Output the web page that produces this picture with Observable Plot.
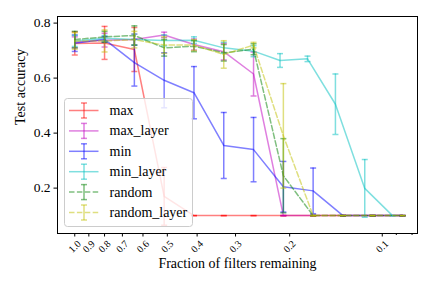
<!DOCTYPE html>
<html><head><meta charset="utf-8">
<script src="https://cdn.jsdelivr.net/npm/d3@7"></script>
<script src="https://cdn.jsdelivr.net/npm/@observablehq/plot@0.6"></script>
<style>
body{margin:0;background:#fff;}
#wrap{position:relative;width:432px;height:288px;font-family:"Liberation Serif","DejaVu Serif",serif;}
#legend{position:absolute;left:0;top:0;pointer-events:none;}
</style></head><body><div id="wrap"></div>
<script>
// ---- data ----
const fractions = [1.0, 0.8, 0.64, 0.512, 0.4096, 0.32768, 0.262144, 0.2097, 0.1678, 0.1342, 0.1074, 0.0859];
const fractionsMinLayer = [1.0, 0.8, 0.64, 0.512, 0.4096, 0.32768, 0.262144, 0.215, 0.175, 0.142, 0.114, 0.0926];

const seriesNames = ["max", "max_layer", "min", "min_layer", "random", "random_layer"];
const seriesColors = ["#ff0000", "#bf00bf", "#0000ff", "#00bfbf", "#008000", "#bfbf00"];
const seriesDashed = [false, false, false, false, true, true];

const maxAcc = [0.726, 0.728, 0.704, 0.17, 0.1, 0.1, 0.1, 0.1, 0.1, 0.1, 0.1, 0.1];
const maxErr = [0.042, 0.06, 0.08, 0.105, 0, 0, 0, 0, 0, 0, 0, 0];
const maxLayerAcc = [0.73, 0.738, 0.74, 0.757, 0.722, 0.696, 0.615, 0.1, 0.1, 0.1, 0.1, 0.1];
const maxLayerErr = [0.02, 0.025, 0.02, 0.01, 0.02, 0.03, 0.08, 0, 0, 0, 0, 0];
const minAcc = [0.727, 0.741, 0.656, 0.592, 0.547, 0.355, 0.34, 0.205, 0.19, 0.1, 0.1, 0.1];
const minErr = [0.03, 0.01, 0.085, 0.1, 0.095, 0.12, 0.117, 0.092, 0.083, 0, 0, 0];
const minLayerAcc = [0.735, 0.745, 0.74, 0.737, 0.738, 0.71, 0.698, 0.664, 0.67, 0.505, 0.199, 0.1];
const minLayerErr = [0.02, 0.01, 0.02, 0.02, 0.012, 0.02, 0.02, 0.025, 0.01, 0.11, 0.105, 0];
const randomAcc = [0.74, 0.75, 0.755, 0.71, 0.716, 0.692, 0.705, 0.245, 0.1, 0.1, 0.1, 0.1];
const randomErr = [0.03, 0.02, 0.035, 0.03, 0.02, 0.03, 0.02, 0.135, 0, 0, 0, 0];
const randomLayerAcc = [0.735, 0.735, 0.74, 0.72, 0.72, 0.686, 0.72, 0.39, 0.1, 0.1, 0.1, 0.1];
const randomLayerErr = [0.03, 0.04, 0.03, 0.03, 0.02, 0.05, 0.01, 0.19, 0, 0, 0, 0];

const xTicks = [1.0, 0.9, 0.8, 0.7, 0.6, 0.5, 0.4, 0.3, 0.2, 0.1];
const xMinorTicks = [0.09, 0.08];
const yTicks = [0.2, 0.4, 0.6, 0.8];

// ---- build rows ----
const seriesAcc = [maxAcc, maxLayerAcc, minAcc, minLayerAcc, randomAcc, randomLayerAcc];
const seriesErr = [maxErr, maxLayerErr, minErr, minLayerErr, randomErr, randomLayerErr];
const seriesX = [fractions, fractions, fractions, fractionsMinLayer, fractions, fractions];

const capSymbol = {
  draw(ctx, size) {
    const w = Math.sqrt(size / Math.PI);
    ctx.moveTo(-w, 0);
    ctx.lineTo(w, 0);
  }
};

const marks = [];
seriesNames.forEach((name, i) => {
  const rows = seriesAcc[i].map((v, j) => ({x: seriesX[i][j], y: v, lo: v - seriesErr[i][j], hi: v + seriesErr[i][j]}));
  const color = seriesColors[i];
  marks.push(Plot.ruleX(rows, {x: "x", y1: "lo", y2: "hi", stroke: color, strokeOpacity: 0.5, strokeWidth: 1.5}));
  marks.push(Plot.dot(rows, {x: "x", y: "hi", symbol: capSymbol, r: 3, fill: "none", stroke: color, strokeOpacity: 0.5, strokeWidth: 1.5}));
  marks.push(Plot.dot(rows, {x: "x", y: "lo", symbol: capSymbol, r: 3, fill: "none", stroke: color, strokeOpacity: 0.5, strokeWidth: 1.5}));
  marks.push(Plot.line(rows, {x: "x", y: "y", stroke: color, strokeOpacity: 0.5, strokeWidth: 1.5,
    strokeDasharray: seriesDashed[i] ? "5.5,2.4" : null}));
});

const chart = Plot.plot({
  width: 432,
  height: 288,
  marginLeft: 57,
  marginRight: 15,
  marginTop: 16,
  marginBottom: 55,
  x: {type: "log", domain: [1.138, 0.0768]},
  y: {domain: [0.035, 0.824]},
  style: {fontFamily: "'Liberation Serif', 'DejaVu Serif', serif", background: "white", color: "black"},
  marks: [
    ...marks,
    Plot.axisX({ticks: xTicks, tickFormat: () => "", tickSize: 3.5, label: null, stroke: "black"}),
    Plot.axisX({ticks: xMinorTicks, tickFormat: () => "", tickSize: 2, label: null, stroke: "black"}),
    Plot.text(xTicks, {x: d => d, frameAnchor: "bottom", dy: 13, rotate: -45, text: d => d.toFixed(1),
      textAnchor: "middle", lineAnchor: "middle", fontSize: 10, fill: "black"}),
    Plot.axisY({ticks: yTicks, tickFormat: d => d.toFixed(1), tickSize: 3.5, tickPadding: 3.5, fontSize: 13.5, label: null, stroke: "black"}),
    Plot.text(["Fraction of filters remaining"], {frameAnchor: "bottom", dy: 34, fontSize: 14, fill: "black"}),
    Plot.text(["Test accuracy"], {frameAnchor: "left", dx: -37, rotate: -90, fontSize: 14, fill: "black"}),
    Plot.frame({stroke: "black", strokeWidth: 1})
  ]
});
const wrap = document.getElementById("wrap");
wrap.appendChild(chart);

// ---- legend overlay ----
const lg = d3.select(wrap).append("svg").attr("id", "legend").attr("width", 432).attr("height", 288);
lg.append("rect").attr("x", 64.5).attr("y", 98.5).attr("width", 128).attr("height", 128).attr("rx", 3)
  .attr("fill", "white").attr("fill-opacity", 0.8).attr("stroke", "#cccccc").attr("stroke-width", 1);
seriesNames.forEach((name, i) => {
  const cy = 110.5 + i * 20.4;
  const g = lg.append("g").attr("stroke", seriesColors[i]).attr("stroke-opacity", 0.5).attr("stroke-width", 1.5).attr("fill", "none");
  g.append("line").attr("x1", 69).attr("x2", 98.5).attr("y1", cy).attr("y2", cy)
    .attr("stroke-dasharray", seriesDashed[i] ? "5.5,2.4" : null);
  g.append("line").attr("x1", 84).attr("x2", 84).attr("y1", cy - 7.5).attr("y2", cy + 7.5);
  g.append("line").attr("x1", 81).attr("x2", 87).attr("y1", cy - 7.5).attr("y2", cy - 7.5);
  g.append("line").attr("x1", 81).attr("x2", 87).attr("y1", cy + 7.5).attr("y2", cy + 7.5);
  lg.append("text").attr("x", 109.5).attr("y", cy + 4.5).attr("font-size", 14)
    .attr("font-family", "'Liberation Serif', 'DejaVu Serif', serif").attr("fill", "black").text(name);
});
</script></body></html>
